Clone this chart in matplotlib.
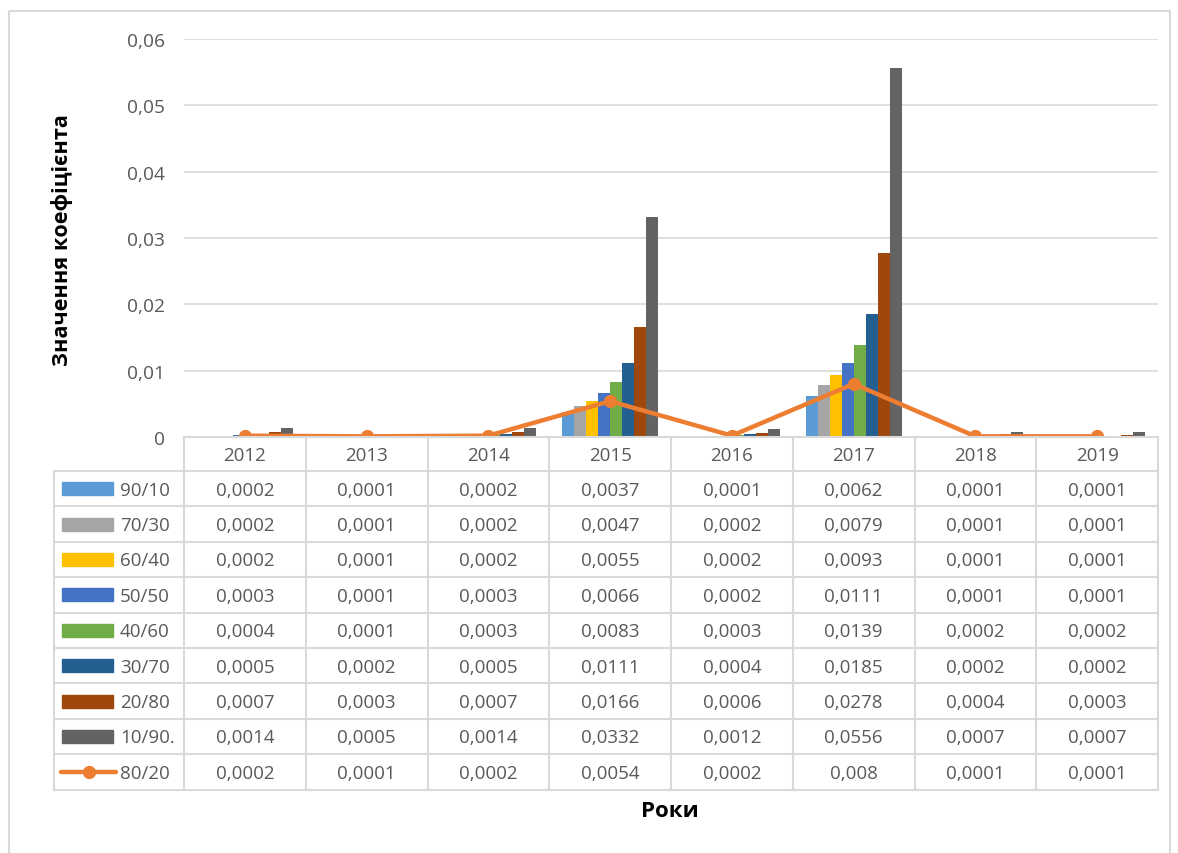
import numpy as np
import matplotlib.pyplot as plt
from matplotlib.patches import Rectangle
from matplotlib.lines import Line2D
from matplotlib.ticker import FuncFormatter

plt.rcParams['font.family'] = ['Open Sans', 'DejaVu Sans']

years = ['2012', '2013', '2014', '2015', '2016', '2017', '2018', '2019']

bar_names = ['90/10', '70/30', '60/40', '50/50', '40/60', '30/70', '20/80', '10/90.']
bar_values = [
    [0.0002, 0.0001, 0.0002, 0.0037, 0.0001, 0.0062, 0.0001, 0.0001],
    [0.0002, 0.0001, 0.0002, 0.0047, 0.0002, 0.0079, 0.0001, 0.0001],
    [0.0002, 0.0001, 0.0002, 0.0055, 0.0002, 0.0093, 0.0001, 0.0001],
    [0.0003, 0.0001, 0.0003, 0.0066, 0.0002, 0.0111, 0.0001, 0.0001],
    [0.0004, 0.0001, 0.0003, 0.0083, 0.0003, 0.0139, 0.0002, 0.0002],
    [0.0005, 0.0002, 0.0005, 0.0111, 0.0004, 0.0185, 0.0002, 0.0002],
    [0.0007, 0.0003, 0.0007, 0.0166, 0.0006, 0.0278, 0.0004, 0.0003],
    [0.0014, 0.0005, 0.0014, 0.0332, 0.0012, 0.0556, 0.0007, 0.0007],
]
bar_colors = ['#5B9BD5', '#A5A5A5', '#FFC000', '#4472C4', '#70AD47',
              '#255E91', '#9E480E', '#636363']

line_name = '80/20'
line_values = [0.0002, 0.0001, 0.0002, 0.0054, 0.0002, 0.008, 0.0001, 0.0001]
line_color = '#ED7D31'

W, H = 1178, 854
fig = plt.figure(figsize=(W / 100, H / 100), dpi=100)

# plot area in pixels
px0, px1, py0, py1 = 184, 1158, 40, 438
ax = fig.add_axes([px0 / W, 1 - py1 / H, (px1 - px0) / W, (py1 - py0) / H])

x = np.arange(len(years))
bw = 0.0986
n = len(bar_names)
for i, (vals, c) in enumerate(zip(bar_values, bar_colors)):
    ax.bar(x + (i - (n - 1) / 2) * bw, vals, width=bw, color=c, zorder=2)
ax.plot(x, line_values, color=line_color, lw=3.2, marker='o', ms=8.5, zorder=3)

ax.set_xlim(-0.5, len(years) - 0.5)
ax.set_ylim(0, 0.06)
ax.set_yticks(np.arange(0, 0.0601, 0.01))
ax.yaxis.set_major_formatter(FuncFormatter(
    lambda v, p: '0' if abs(v) < 1e-12 else f'{v:.2f}'.replace('.', ',')))
ax.tick_params(axis='y', length=0, pad=14, labelsize=13.8, labelcolor='#595959')
ax.set_xticks([])
ax.grid(axis='y', color='#D9D9D9', lw=1.2, zorder=0)
for s in ax.spines.values():
    s.set_visible(False)

# data table under the plot, drawn in pixel coordinates
tab = fig.add_axes([0, 0, 1, 1], facecolor='none')
tab.set_xlim(0, W)
tab.set_ylim(H, 0)
tab.axis('off')

gc = '#D9D9D9'
tc = '#595959'
fs = 13.5
cw = (px1 - px0) / len(years)
lx = 54
hy0, hy1 = 438, 472
rh = 35.4
nrows = n + 1
ybot = hy1 + nrows * rh

# outer chart border
tab.add_patch(Rectangle((9, 12), 1161, 860, fill=False, ec=gc, lw=1.5))

tab.plot([px0, px1], [hy0, hy0], color=gc, lw=1.5)
for k in range(len(years) + 1):
    tab.plot([px0 + k * cw] * 2, [hy0, ybot], color=gc, lw=1.5)
tab.plot([lx, lx], [hy1, ybot], color=gc, lw=1.5)
for r in range(nrows + 1):
    yy = hy1 + r * rh
    tab.plot([lx, px1], [yy, yy], color=gc, lw=1.5)

for k, yr in enumerate(years):
    tab.text(px0 + (k + 0.5) * cw, (hy0 + hy1) / 2 + 1, yr, ha='center',
             va='center', fontsize=fs, color=tc)

rows = list(zip(bar_names, bar_values, bar_colors)) + [(line_name, line_values, line_color)]
for r, (name, vals, c) in enumerate(rows):
    yc = hy1 + (r + 0.5) * rh
    if r < n:
        tab.add_patch(Rectangle((62, yc - 6.5), 51, 13, color=c))
    else:
        tab.add_line(Line2D([61, 116], [yc, yc], color=c, lw=3.2,
                            solid_capstyle='round'))
        tab.add_line(Line2D([88.5], [yc], color=c, marker='o', ms=8.5))
    tab.text(120, yc + 1, name, ha='left', va='center', fontsize=fs, color=tc)
    for k, v in enumerate(vals):
        s = f'{v:.4f}'.rstrip('0').replace('.', ',')
        tab.text(px0 + (k + 0.5) * cw, yc + 1, s, ha='center', va='center',
                 fontsize=fs, color=tc)

tab.text(670, 812, 'Роки', ha='center', va='center', fontsize=16,
         fontweight='bold', color='black')
tab.text(62, 240, 'Значення коефіцієнта', ha='center', va='center',
         fontsize=15.6, fontweight='bold', color='black', rotation=90)

fig.savefig('out.png', dpi=100)
